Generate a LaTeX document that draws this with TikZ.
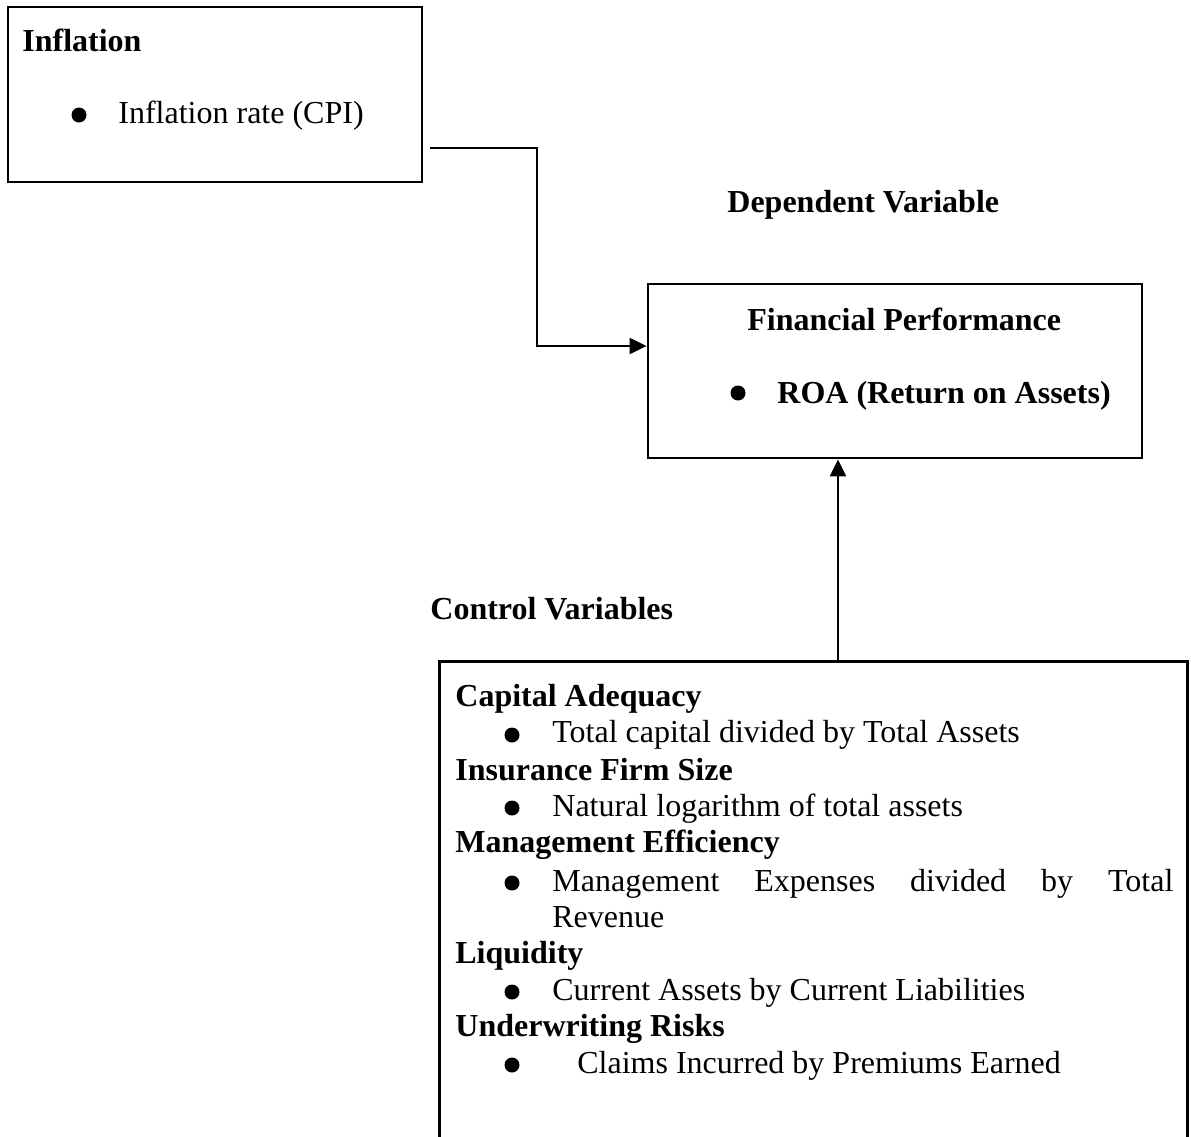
\documentclass[tikz,border=0pt]{standalone}
\usepackage{fontspec}
\setmainfont{Liberation Serif}
\usetikzlibrary{arrows.meta, positioning}

\begin{document}
\begin{tikzpicture}[
                x=0.5pt, y=-0.5pt,
                box style/.style={draw=black, line width=1.4pt, inner sep=0pt},
                text style/.style={anchor=base west, inner sep=0pt, font=\fontsize{16}{18}\selectfont},
                head style/.style={text style, font=\fontsize{16}{18}\selectfont\bfseries},
                dot style/.style={circle, fill=black, inner sep=0pt, minimum size=7.5pt},
                link style/.style={line width=1.1pt, -{Triangle[length=8.5pt, width=8pt]}}
]
    \useasboundingbox (0,0) rectangle (1191,1137);

    % Inflation box (top left)
        \node[box style, minimum width=207pt, minimum height=87.5pt] (infl) at (215,94.5) {};
        \node[head style] (inflHead) at (22,51) {Inflation};
        \node[dot style] (inflDot) at (79,115) {};
        \node[text style] (inflItem) at (118,123) {Inflation rate (CPI)};

    % Dependent variable box
        \node[head style] (depLabel) at (727,212) {Dependent Variable};
        \node[box style, minimum width=247pt, minimum height=87pt] (perf) at (895,371) {};
        \node[head style] (perfHead) at (747,330) {Financial Performance};
        \node[dot style] (perfDot) at (738,393) {};
        \node[head style] (perfItem) at (777,403) {ROA (Return on Assets)};

    % Control variables box, open at the bottom
        \node[head style] (ctrlLabel) at (430,619) {Control Variables};
        \node[inner sep=0pt, minimum width=373.5pt, minimum height=240pt] (ctrl) at (813.5,902) {};
        \draw[line width=1.4pt] (ctrl.south west) |- (ctrl.north east) -- (ctrl.south east);

        \node[head style] (capHead) at (455,706) {Capital Adequacy};
        \node[dot style] (capDot) at (512,735) {};
        \node[text style] (capItem) at (552,742) {Total capital divided by Total Assets};
        \node[head style] (sizeHead) at (455,780) {Insurance Firm Size};
        \node[dot style] (sizeDot) at (512,808) {};
        \node[text style] (sizeItem) at (552,816) {Natural logarithm of total assets};
        \node[head style] (mgmtHead) at (455,852) {Management Efficiency};
        \node[dot style] (mgmtDot) at (512,883) {};
        \node[text style] (mgmtItem) at (552,891) {\makebox[310.5pt][s]{Management Expenses divided by Total}};
        \node[text style] (mgmtItemB) at (552,927) {Revenue};
        \node[head style] (liqHead) at (455,963) {Liquidity};
        \node[dot style] (liqDot) at (512,992) {};
        \node[text style] (liqItem) at (552,1000) {Current Assets by Current Liabilities};
        \node[head style] (uwHead) at (455,1036) {Underwriting Risks};
        \node[dot style] (uwDot) at (512,1065) {};
        \node[text style] (uwItem) at (577,1073) {Claims Incurred by Premiums Earned};

    % Connectors
        \coordinate (inflOut) at (430,148);
        \coordinate (perfIn) at (perf.west |- 0,346);
        \draw[link style] (inflOut) -- ++(107,0) |- (perfIn);
        \coordinate (ctrlOut) at (838,662);
        \draw[link style] (ctrlOut) -- (ctrlOut |- perf.south);
\end{tikzpicture}
\end{document}
